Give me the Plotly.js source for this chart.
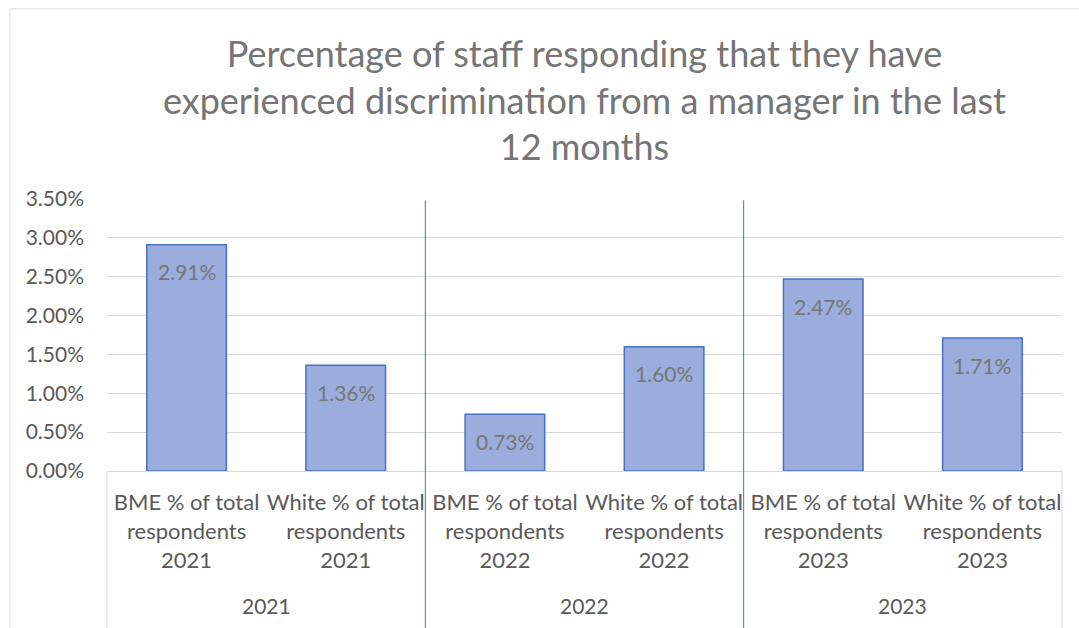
<!DOCTYPE html>
<html>
<head>
<meta charset="utf-8">
<script src="https://cdn.plot.ly/plotly-3.0.1.min.js"></script>
<style>html,body{margin:0;padding:0;background:#fff;}#chart{width:1079px;height:628px;}</style>
</head>
<body>
<div id="chart"></div>
<script>
const categories = [
  "BME % of total respondents 2021",
  "White % of total respondents 2021",
  "BME % of total respondents 2022",
  "White % of total respondents 2022",
  "BME % of total respondents 2023",
  "White % of total respondents 2023"
];
const tickLabels = [
  "BME % of total<br>respondents<br>2021",
  "White % of total<br>respondents<br>2021",
  "BME % of total<br>respondents<br>2022",
  "White % of total<br>respondents<br>2022",
  "BME % of total<br>respondents<br>2023",
  "White % of total<br>respondents<br>2023"
];
const values = [0.0291, 0.0136, 0.0073, 0.0160, 0.0247, 0.0171];
const years = ["2021", "2022", "2023"];
const yearCenters = [0.5, 2.5, 4.5];
const dividers = [1.5, 3.5];

const FONT = "Lato, 'Open Sans', sans-serif";
const trace = {
  type: "bar",
  x: categories,
  y: values,
  width: 0.5,
  marker: {color: "#9BADDC", line: {color: "#4472C4", width: 1.5}},
  hoverinfo: "none"
};

const annotations = [];
categories.forEach((c, i) => {
  annotations.push({
    x: c, y: values[i], xref: "x", yref: "y",
    text: (values[i] * 100).toFixed(2) + "%",
    showarrow: false, yanchor: "middle", yshift: -27,
    font: {family: FONT, size: 21, color: "#767676"}
  });
});
years.forEach((yr, i) => {
  annotations.push({
    x: yearCenters[i], y: -0.496, xref: "x", yref: "paper",
    text: yr, showarrow: false, yanchor: "middle",
    font: {family: FONT, size: 21, color: "#595959"}
  });
});

const shapes = [
  {type: "rect", xref: "paper", yref: "paper", x0: -0.1016, x1: 1.2, y0: -0.8, y1: 1.699,
   line: {color: "#D9D9D9", width: 1}, fillcolor: "rgba(0,0,0,0)", layer: "below"},
  {type: "line", xref: "paper", yref: "paper", x0: 0, x1: 0, y0: -0.8, y1: 0,
   line: {color: "#D9D9D9", width: 1}},
  {type: "line", xref: "paper", yref: "paper", x0: 1, x1: 1, y0: -0.8, y1: 0,
   line: {color: "#D9D9D9", width: 1}}
];
dividers.forEach(d => {
  shapes.push({type: "line", xref: "x", yref: "paper", x0: d, x1: d, y0: -0.8, y1: 0.995,
    line: {color: "#4472C4", width: 1}});
});

const layout = {
  width: 1079, height: 628,
  margin: {l: 107, r: 17, t: 199, b: 157},
  paper_bgcolor: "#fff", plot_bgcolor: "#fff",
  showlegend: false,
  title: {
    text: "Percentage of staff responding that they have<br>experienced discrimination from a manager in the last<br>12 months",
    x: 0.5, xref: "paper", y: 0.8935, yref: "container", yanchor: "middle",
    font: {family: FONT, size: 36, color: "#757575"}
  },
  xaxis: {
    type: "category",
    tickvals: categories, ticktext: tickLabels,
    showgrid: false, zeroline: false,
    showline: true, linecolor: "#D9D9D9", linewidth: 1,
    ticks: "", ticklen: 0, ticklabelstandoff: 12,
    tickfont: {family: FONT, size: 22, color: "#595959"},
    range: [-0.5, 5.5], fixedrange: true
  },
  yaxis: {
    range: [0, 0.035], dtick: 0.005, tickformat: ".2%",
    showgrid: true, gridcolor: "#D9D9D9", gridwidth: 1,
    zeroline: false, showline: false, ticks: "", ticklabelstandoff: 22,
    tickfont: {family: FONT, size: 21, color: "#595959"},
    fixedrange: true
  },
  annotations: annotations,
  shapes: shapes
};

Plotly.newPlot("chart", [trace], layout, {displayModeBar: false, staticPlot: true});
</script>
</body>
</html>
